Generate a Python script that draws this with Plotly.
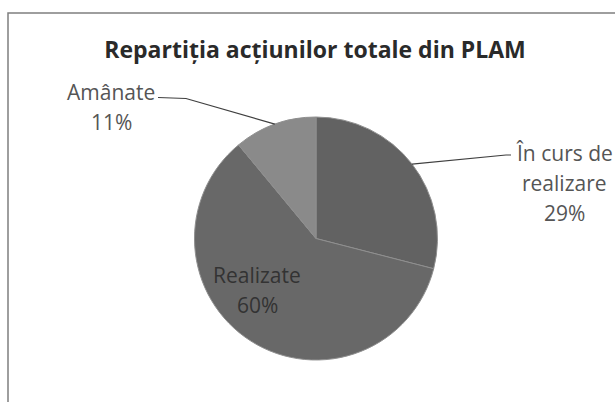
import math
import plotly.graph_objects as go

# ---- data ----
labels = ["În curs de realizare", "Realizate", "Amânate"]
values = [29, 60, 11]
label_lines = [["În curs de", "realizare"], ["Realizate"], ["Amânate"]]
title_text = "Repartiția acțiunilor totale din PLAM"

# ---- layout constants (pixels) ----
W, H = 615, 402
CX, CY, R = 316, 238.5, 121.5
colors = ["#626262", "#686868", "#8a8a8a"]
LINE_H = 30

def px2paper(x, y):
    return x / W, 1 - y / H

total = sum(values)
pcts = [f"{v / total * 100:.0f}%" for v in values]

fig = go.Figure()
fig.add_trace(go.Pie(
    labels=labels, values=values, sort=False, direction="clockwise", rotation=0,
    marker=dict(colors=colors, line=dict(color="#8f8f8f", width=1)),
    textinfo="none", hoverinfo="label+percent", showlegend=False,
    domain=dict(x=[(CX - R) / W, (CX + R) / W], y=[1 - (CY + R) / H, 1 - (CY - R) / H]),
))

# mid angles of slices (clockwise from 12 o'clock)
mids = []
acc = 0
for v in values:
    mids.append((acc + v / 2) / total * 2 * math.pi)
    acc += v

def edge_point(theta):
    return CX + R * math.sin(theta), CY - R * math.cos(theta)

# label blocks: (center x, first-line center y, color)
blocks = {
    0: (564, 153, "#555555"),
    1: (257, 275, "#333333"),
    2: (111, 92, "#555555"),
}
annotations = []
for i, (bx, by, col) in blocks.items():
    lines = label_lines[i] + [pcts[i]]
    for j, t in enumerate(lines):
        x, y = px2paper(bx, by + j * LINE_H)
        annotations.append(dict(x=x, y=y, xref="paper", yref="paper", text=t,
                                showarrow=False, xanchor="center", yanchor="middle",
                                font=dict(family="Open Sans", size=21, color=col)))

# leader lines
shapes = []
leaders = {0: [(511, 155), (506, 155)], 2: [(158, 97.5), (186, 98.5)]}
for i, pts in leaders.items():
    tip = edge_point(mids[i])
    allpts = pts + [tip]
    path = ""
    for k, (x, y) in enumerate(allpts):
        px_, py_ = px2paper(x, y)
        path += ("M" if k == 0 else "L") + f"{px_},{py_} "
    shapes.append(dict(type="path", path=path, xref="paper", yref="paper",
                       line=dict(color="#3f3f3f", width=1.2)))

# chart border
bx0, by0 = px2paper(8, 13)
bx1, by1 = px2paper(617, 405)
shapes.append(dict(type="rect", xref="paper", yref="paper", x0=bx0, y0=by1, x1=bx1, y1=by0,
                   line=dict(color="#7f7f7f", width=1.5)))

tx, ty = px2paper(315, 50)
fig.update_layout(
    width=W, height=H, margin=dict(l=0, r=0, t=0, b=0),
    paper_bgcolor="white", plot_bgcolor="white",
    title=dict(text=title_text, x=tx, y=ty, xanchor="center", yanchor="middle",
               xref="paper", yref="paper",
               font=dict(family="Open Sans", size=23, weight="bold", color="#2a2a2a")),
    annotations=annotations, shapes=shapes,
)
fig.write_html("out.html", config={"displayModeBar": False},
               post_script="document.body.style.margin='0';document.body.style.overflow='hidden';")
